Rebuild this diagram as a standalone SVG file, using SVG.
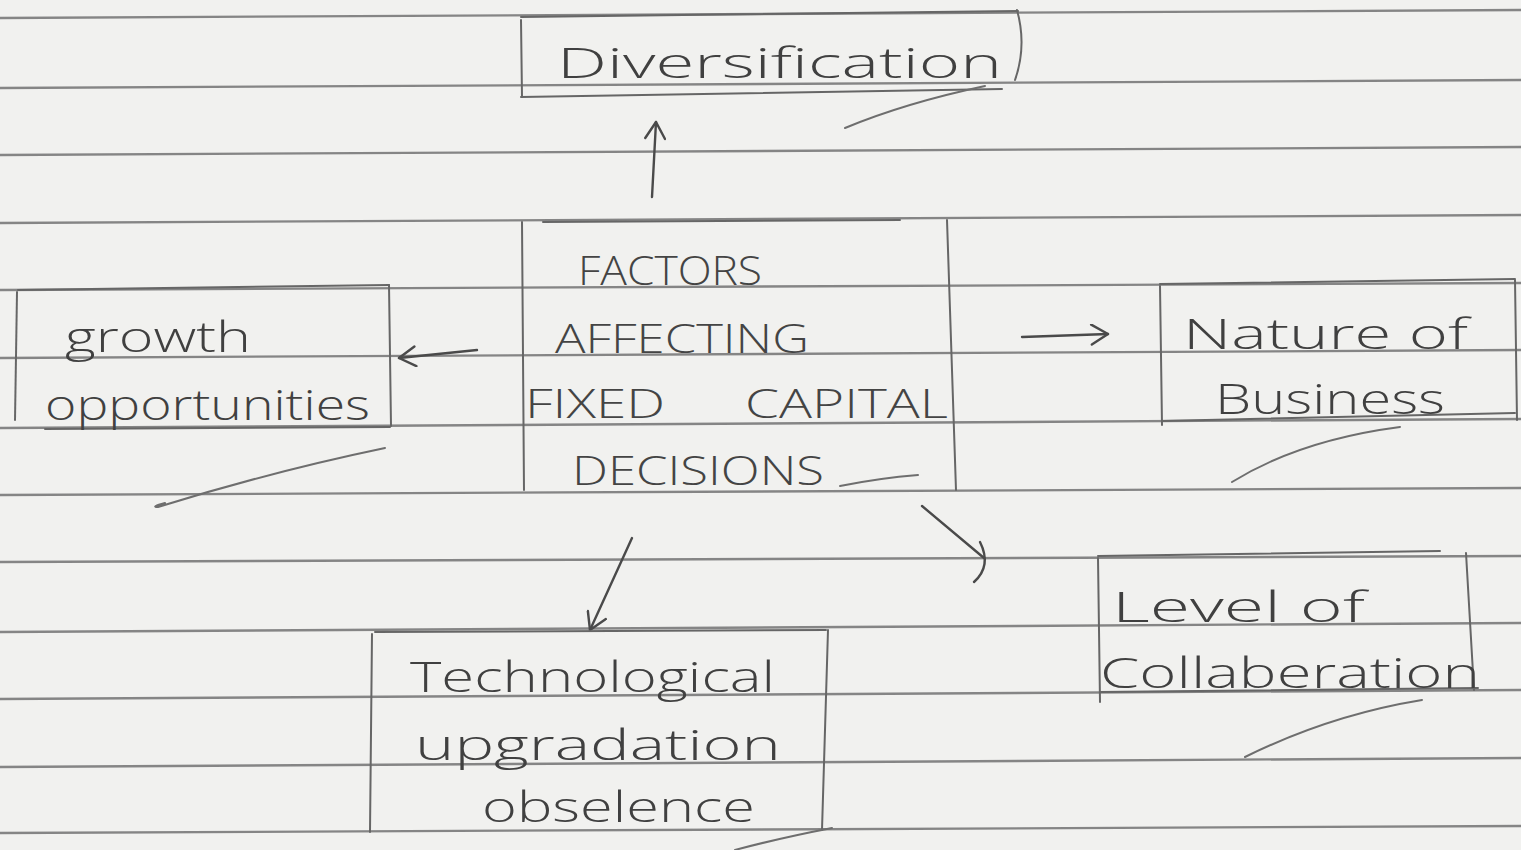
<svg xmlns="http://www.w3.org/2000/svg" width="1521" height="850" viewBox="0 0 1521 850">
  <defs>
    <style>
      .paper { fill: #f1f1ef; }
      .rule { stroke: #858585; stroke-width: 2.3; fill: none; }
      .box { stroke: #666666; stroke-width: 2; fill: none; stroke-linecap: round; }
      .tick { stroke: #6e6e6e; stroke-width: 2; fill: none; stroke-linecap: round; }
      .edge { stroke: #4a4a4a; stroke-width: 2.4; fill: none; stroke-linecap: round; stroke-linejoin: round; }
      .caps { font-family: "Open Sans", "DejaVu Sans", sans-serif; font-weight: 300; font-size: 40px; fill: #444444; }
      .hand { font-family: "Open Sans", "DejaVu Sans", sans-serif; font-weight: 300; font-size: 42px; fill: #404040; }
    </style>
    <marker id="head" viewBox="0 0 20 20" refX="18" refY="10" markerWidth="22" markerHeight="22" markerUnits="userSpaceOnUse" orient="auto">
      <path d="M3,1 L18,10 L3,19" fill="none" stroke="#4a4a4a" stroke-width="2.2" stroke-linecap="round" stroke-linejoin="round"/>
    </marker>
  </defs>

  <!-- notebook page -->
  <rect class="paper" x="0" y="0" width="1521" height="850"/>
  <g id="ruled-lines">
    <line class="rule" x1="0" y1="18" x2="1521" y2="10"/>
    <line class="rule" x1="0" y1="88" x2="1521" y2="80"/>
    <line class="rule" x1="0" y1="155" x2="1521" y2="147"/>
    <line class="rule" x1="0" y1="223" x2="1521" y2="215"/>
    <line class="rule" x1="0" y1="290" x2="1521" y2="283"/>
    <line class="rule" x1="0" y1="358" x2="1521" y2="350"/>
    <line class="rule" x1="0" y1="428" x2="1521" y2="419"/>
    <line class="rule" x1="0" y1="495" x2="1521" y2="488"/>
    <line class="rule" x1="0" y1="562" x2="1521" y2="556"/>
    <line class="rule" x1="0" y1="632" x2="1521" y2="623"/>
    <line class="rule" x1="0" y1="699" x2="1521" y2="690"/>
    <line class="rule" x1="0" y1="767" x2="1521" y2="758"/>
    <line class="rule" x1="0" y1="833" x2="1521" y2="826"/>
  </g>

  <!-- connectors -->
  <g id="connectors">
    <path class="edge" d="M652,197 L656,122" marker-end="url(#head)"/>
    <path class="edge" d="M477,350 L399,358" marker-end="url(#head)"/>
    <path class="edge" d="M1022,337 L1108,334" marker-end="url(#head)"/>
    <path class="edge" d="M632,538 L590,630" marker-end="url(#head)"/>
    <path class="edge" d="M922,506 L984,558"/>
    <path class="edge" d="M980,542 Q992,566 974,582"/>
  </g>

  <!-- Diversification -->
  <g id="node-diversification">
    <path class="box" d="M521,20 L522,97"/>
    <path class="box" d="M521,17 L1018,11"/>
    <path class="box" d="M1017,10 Q1027,46 1015,80"/>
    <path class="box" d="M521,97 L1002,89"/>
    <text class="hand" x="557" y="78" textLength="445" lengthAdjust="spacingAndGlyphs">Diversification</text>
    <path class="tick" d="M845,128 Q905,103 985,86"/>
  </g>

  <!-- central topic -->
  <g id="node-factors">
    <path class="box" d="M522,222 L524,490"/>
    <path class="box" d="M947,220 L956,490"/>
    <path class="box" d="M543,222 L900,220"/>
    <text class="caps" x="578" y="285" textLength="184" lengthAdjust="spacingAndGlyphs">FACTORS</text>
    <text class="caps" x="555" y="353" textLength="254" lengthAdjust="spacingAndGlyphs">AFFECTING</text>
    <text class="caps" x="525" y="418" textLength="140" lengthAdjust="spacingAndGlyphs">FIXED</text>
    <text class="caps" x="745" y="418" textLength="203" lengthAdjust="spacingAndGlyphs">CAPITAL</text>
    <text class="caps" x="572" y="485" textLength="252" lengthAdjust="spacingAndGlyphs">DECISIONS</text>
    <path class="tick" d="M840,486 Q880,478 918,475"/>
  </g>

  <!-- growth opportunities -->
  <g id="node-growth">
    <path class="box" d="M17,292 L15,420"/>
    <path class="box" d="M18,290 L389,285"/>
    <path class="box" d="M389,285 L391,426"/>
    <path class="box" d="M45,429 L390,427"/>
    <text class="hand" x="65" y="352" textLength="186" lengthAdjust="spacingAndGlyphs">growth</text>
    <text class="hand" x="45" y="420" textLength="325" lengthAdjust="spacingAndGlyphs">opportunities</text>
    <path class="tick" d="M165,503 Q150,507 158,507 Q270,472 385,448"/>
  </g>

  <!-- Nature of Business -->
  <g id="node-nature">
    <path class="box" d="M1160,286 L1162,425"/>
    <path class="box" d="M1160,284 L1515,279"/>
    <path class="box" d="M1515,280 L1517,420"/>
    <path class="box" d="M1162,421 L1515,413"/>
    <text class="hand" x="1183" y="349" textLength="285" lengthAdjust="spacingAndGlyphs">Nature of</text>
    <text class="hand" x="1215" y="414" textLength="230" lengthAdjust="spacingAndGlyphs">Business</text>
    <path class="tick" d="M1232,482 Q1300,440 1400,427"/>
  </g>

  <!-- Technological upgradation obselence -->
  <g id="node-technology">
    <path class="box" d="M372,634 L370,832"/>
    <path class="box" d="M375,632 L826,630"/>
    <path class="box" d="M828,630 L822,830"/>
    <text class="hand" x="410" y="692" textLength="365" lengthAdjust="spacingAndGlyphs">Technological</text>
    <text class="hand" x="415" y="760" textLength="366" lengthAdjust="spacingAndGlyphs">upgradation</text>
    <text class="hand" x="482" y="822" textLength="273" lengthAdjust="spacingAndGlyphs">obselence</text>
    <path class="tick" d="M735,850 Q780,838 832,828"/>
  </g>

  <!-- Level of Collaberation -->
  <g id="node-collaboration">
    <path class="box" d="M1098,558 L1100,702"/>
    <path class="box" d="M1098,556 L1440,551"/>
    <path class="box" d="M1466,553 L1474,690"/>
    <path class="box" d="M1100,692 L1478,688"/>
    <text class="hand" x="1112" y="622" textLength="253" lengthAdjust="spacingAndGlyphs">Level of</text>
    <text class="hand" x="1100" y="688" textLength="380" lengthAdjust="spacingAndGlyphs">Collaberation</text>
    <path class="tick" d="M1245,757 Q1330,715 1422,700"/>
  </g>
</svg>
